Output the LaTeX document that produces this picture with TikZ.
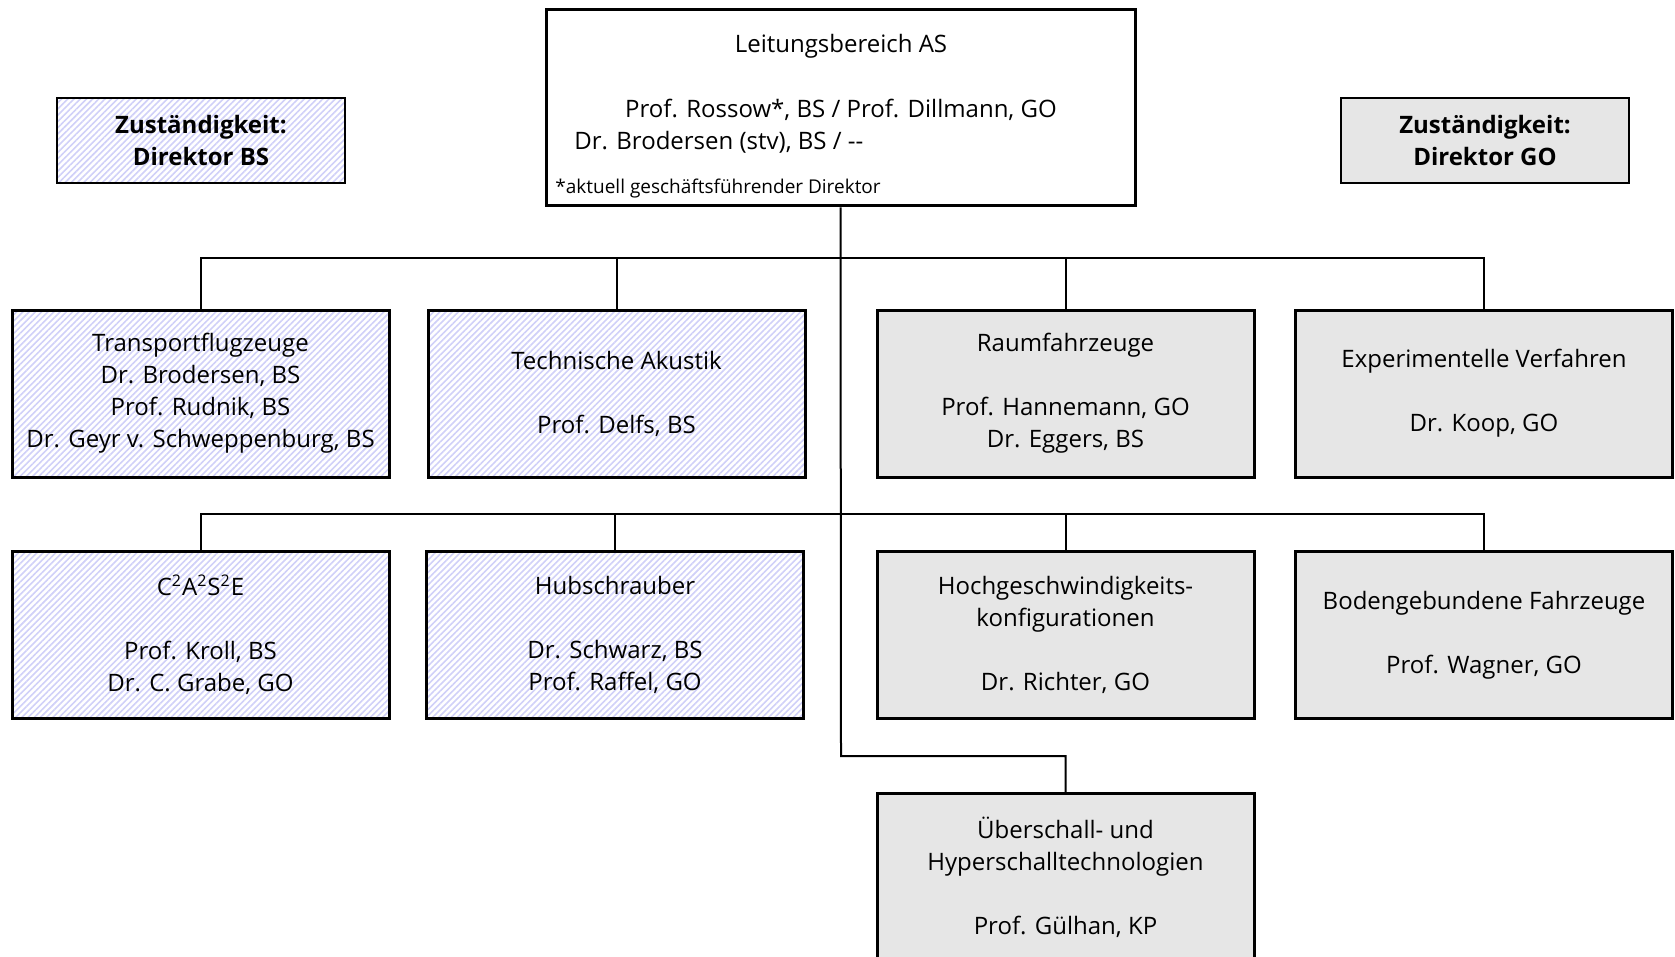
\documentclass[tikz,border=0pt]{standalone}
\usepackage{xcolor}
\usepackage{tikz}
\usepackage{fontspec}
\setmainfont{Open Sans}
\usetikzlibrary{patterns.meta}

\definecolor{hatchblue}{RGB}{208,208,248}
\definecolor{gofill}{RGB}{230,230,230}

\begin{document}
\begin{tikzpicture}[x=0.5pt, y=-0.5pt,
    every node/.style={inner sep=0pt, font=\fontsize{12}{16}\selectfont},
    box/.style={draw, line width=1.5pt, minimum width=188.5pt, minimum height=83.5pt, align=center},
    bsbox/.style={box, pattern={Lines[angle=45, distance=2.2pt, line width=0.8pt]}, pattern color=hatchblue},
    gobox/.style={box, fill=gofill},
    conn/.style={line width=1pt}]
        \clip (0,0) rectangle (1675,957);
        \useasboundingbox (0,0) rectangle (1675,957);

        % Leitung
        \node[draw, line width=1.5pt, minimum width=294.5pt, minimum height=98pt] (top) at (840.5,108) {};
        \node (lt) at (841,46) {Leitungsbereich AS};
        \node (ld) at (841,110) {Prof. Rossow*, BS / Prof. Dillmann, GO};
        \node[anchor=west] (ls) at (574,142) {Dr. Brodersen (stv), BS / {-}{-}};
        \node[anchor=west, font=\fontsize{9.5}{12}\selectfont] (lf) at (555,189) {*aktuell geschäftsführender Direktor};

        % Legende
        \node[draw, line width=1pt, minimum width=144pt, minimum height=42.5pt, align=center,
              pattern={Lines[angle=45, distance=2.2pt, line width=0.8pt]}, pattern color=hatchblue,
              font=\bfseries\fontsize{12}{16}\selectfont] (dirbs) at (201,140.5) {Zuständigkeit:\\Direktor BS};
        \node[draw, line width=1pt, minimum width=144pt, minimum height=42.5pt, align=center, fill=gofill,
              font=\bfseries\fontsize{12}{16}\selectfont] (dirgo) at (1485,140.5) {Zuständigkeit:\\Direktor GO};

        % Abteilungen, erste Reihe
        \node[bsbox] (tf) at (200.5,393.5) {Transportflugzeuge\\Dr. Brodersen, BS\\Prof. Rudnik, BS\\Dr. Geyr v. Schweppenburg, BS};
        \node[bsbox] (ta) at (616.5,393.5) {Technische Akustik\\[16pt]Prof. Delfs, BS};
        \node[gobox] (rf) at (1065.5,393.5) {Raumfahrzeuge\\[16pt]Prof. Hannemann, GO\\Dr. Eggers, BS};
        \node[gobox] (ev) at (1484,393.5) {Experimentelle Verfahren\\[16pt]Dr. Koop, GO};

        % Abteilungen, zweite Reihe
        \node[bsbox] (ca) at (200.5,635) {C\textsuperscript{2}A\textsuperscript{2}S\textsuperscript{2}E\\[16pt]Prof. Kroll, BS\\Dr. C. Grabe, GO};
        \node[bsbox] (hs) at (615,635) {Hubschrauber\\[16pt]Dr. Schwarz, BS\\Prof. Raffel, GO};
        \node[gobox] (hk) at (1065.5,635) {Hochgeschwindigkeits-\\konfigurationen\\[16pt]Dr. Richter, GO};
        \node[gobox] (bf) at (1484,635) {Bodengebundene Fahrzeuge\\[16pt]Prof. Wagner, GO};

        % Abteilung, unten
        \node[gobox] (uh) at (1065.5,877) {Überschall- und\\Hyperschalltechnologien\\[16pt]Prof. Gülhan, KP};

        % Verbindungen
        \coordinate (j1) at (841,258);
        \coordinate (j2) at (841,514);
        \coordinate (j3) at (841,756);
        \draw[conn] (top.south) -- (j3) -| (uh.north);
        \draw[conn] (tf.north) |- (j1) -| (ev.north);
        \draw[conn] (ta.north) -- (ta.north |- j1);
        \draw[conn] (rf.north) -- (rf.north |- j1);
        \draw[conn] (ca.north) |- (j2) -| (bf.north);
        \draw[conn] (hs.north) -- (hs.north |- j2);
        \draw[conn] (hk.north) -- (hk.north |- j2);

    \end{tikzpicture}
\end{document}
